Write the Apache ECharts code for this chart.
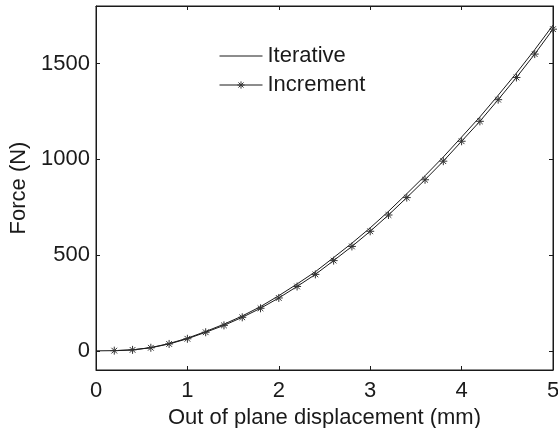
<!DOCTYPE html>
<html>
<head>
<meta charset="utf-8">
<script src="https://cdn.jsdelivr.net/npm/echarts@6/dist/echarts.min.js"></script>
<style>
  html, body { margin: 0; padding: 0; background: #ffffff; }
  #chart { width: 558px; height: 428px; }
</style>
</head>
<body>
<div id="chart"></div>
<script>
// Out-of-plane displacement (mm) vs. force (N)
const iterDisp = [0, 0.2, 0.4, 0.6, 0.8, 1.0, 1.2, 1.4, 1.6, 1.8, 2.0, 2.2, 2.4, 2.6, 2.8, 3.0,
                  3.2, 3.4, 3.6, 3.8, 4.0, 4.2, 4.4, 4.6, 4.8, 5.0];
const iterForce = [0, 1, 5, 17, 38, 66, 101, 139, 182, 231, 288, 349, 413, 487, 562, 642,
                   728, 820, 914, 1012, 1116, 1221, 1334, 1450, 1572, 1700];

const incrDisp = [0.2, 0.4, 0.6, 0.8, 1.0, 1.2, 1.4, 1.6, 1.8, 2.0, 2.2, 2.4, 2.6, 2.8, 3.0,
                  3.2, 3.4, 3.6, 3.8, 4.0, 4.2, 4.4, 4.6, 4.8, 5.0];
const incrForce = [1, 5, 16, 36, 63, 97, 133, 175, 222, 276, 336, 399, 471, 545, 624,
                   709, 800, 893, 990, 1094, 1198, 1311, 1427, 1549, 1679];

const yTicks = [0, 500, 1000, 1500];
const seriesNames = ['Iterative', 'Increment'];

const FONT = 'Liberation Sans, Arial, Helvetica, sans-serif';
const INK = '#1a1a1a';
const ASTERISK = 'path://M0,-1L0,1M-1,0L1,0M-0.71,-0.71L0.71,0.71M-0.71,0.71L0.71,-0.71';
const starStyle = { color: 'rgba(0,0,0,0)', borderColor: '#333333', borderWidth: 1 };

const zip = (xs, ys) => xs.map((x, i) => [x, ys[i]]);
const plain = v => String(v);

const boxAxisLine = { show: true, onZero: false, lineStyle: { color: INK, width: 1 } };
const innerTick = { show: true, inside: true, length: 4, lineStyle: { color: INK, width: 1 } };

const chart = echarts.init(document.getElementById('chart'), null, { renderer: 'canvas' });
chart.setOption({
  backgroundColor: '#ffffff',
  animation: false,
  textStyle: { fontFamily: FONT },
  grid: {
    left: 96, right: 5, top: 6, bottom: 58,
    containLabel: false, outerBoundsMode: 'none',
    show: true, borderColor: INK, borderWidth: 1, backgroundColor: 'rgba(0,0,0,0)'
  },
  legend: {
    orient: 'vertical',
    left: 214,
    top: 40,
    itemWidth: 43,
    itemHeight: 9,
    itemGap: 7,
    lineStyle: { width: 1 },
    data: [
      { name: seriesNames[0], itemStyle: { color: 'rgba(0,0,0,0)', borderColor: 'rgba(0,0,0,0)', borderWidth: 0, opacity: 0 } },
      { name: seriesNames[1], itemStyle: starStyle }
    ],
    textStyle: { fontFamily: FONT, fontSize: 22, color: INK }
  },
  xAxis: [
    {
      type: 'value', min: 0, max: 5, interval: 1, position: 'bottom',
      name: 'Out of plane displacement (mm)', nameLocation: 'middle', nameGap: 29,
      nameTextStyle: { fontFamily: FONT, fontSize: 22, color: INK },
      axisLine: boxAxisLine, axisTick: innerTick,
      axisLabel: { fontFamily: FONT, fontSize: 22, color: INK, margin: 10, formatter: plain },
      splitLine: { show: false }
    },
    {
      type: 'value', min: 0, max: 5, interval: 1, position: 'top',
      axisLine: boxAxisLine, axisTick: innerTick,
      axisLabel: { show: false }, splitLine: { show: false }
    }
  ],
  yAxis: [
    {
      type: 'value', min: -100, max: 1800, position: 'left',
      name: 'Force (N)', nameLocation: 'middle', nameGap: 56,
      nameTextStyle: { fontFamily: FONT, fontSize: 22, color: INK },
      axisLine: boxAxisLine,
      axisTick: Object.assign({ customValues: yTicks }, innerTick),
      axisLabel: { customValues: yTicks, fontFamily: FONT, fontSize: 22, color: INK, margin: 6, formatter: plain },
      splitLine: { show: false }
    },
    {
      type: 'value', min: -100, max: 1800, position: 'right',
      axisLine: boxAxisLine,
      axisTick: Object.assign({ customValues: yTicks }, innerTick),
      axisLabel: { show: false }, splitLine: { show: false }
    }
  ],
  series: [
    {
      name: seriesNames[0],
      type: 'line',
      data: zip(iterDisp, iterForce),
      showSymbol: false,
      symbol: 'none',
      lineStyle: { color: INK, width: 1 },
      itemStyle: { color: INK }
    },
    {
      name: seriesNames[1],
      type: 'line',
      data: zip(incrDisp, incrForce),
      symbol: ASTERISK,
      symbolSize: 8,
      showSymbol: true,
      lineStyle: { color: INK, width: 1 },
      itemStyle: starStyle
    }
  ]
});
</script>
</body>
</html>
